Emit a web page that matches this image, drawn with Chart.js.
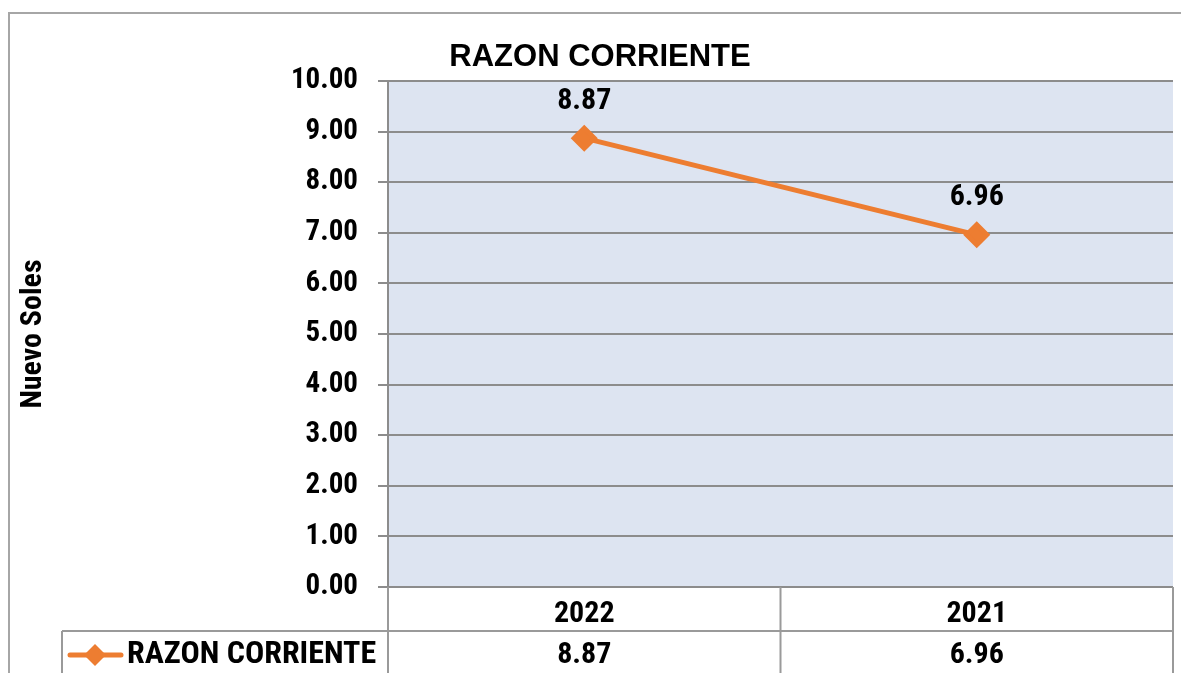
<!DOCTYPE html>
<html lang="es">
<head>
    <meta charset="UTF-8">
    <title>Razon Corriente</title>
    <script src="https://cdn.jsdelivr.net/npm/chart.js"></script>
    <style>
        html, body { margin: 0; padding: 0; background: #fff; overflow: hidden; }
        .chart-box { width: 1181px; height: 673px; position: relative; }
    </style>
</head>
<body>
    <div class="chart-box">
        <canvas id="ratioChart"></canvas>
    </div>

    <script>
        const categories = ['2022', '2021'];
        const ratioValues = [8.87, 6.96];
        const seriesName = 'RAZON CORRIENTE';
        const chartTitle = 'RAZON CORRIENTE';
        const yAxisTitle = 'Nuevo Soles';

        // narrow bold look, like Arial Narrow in the original sheet
        const NARROW = 'Roboto, "Liberation Sans", sans-serif';
        const NARROW_W = 'bold condensed';
        const TITLE_FONT = 'bold 31px "Liberation Sans", Arial, sans-serif';
        const ORANGE = '#ed7d31';
        const GRID = '#8c8c8c';
        const TABLE_LINE = '#9a9a9a';

        const excelLook = {
            id: 'excelLook',
            beforeDraw(chart) {
                const { ctx, chartArea: a } = chart;
                ctx.save();
                ctx.fillStyle = '#dde4f1';
                ctx.fillRect(a.left, a.top, a.right - a.left, a.bottom - a.top);
                // outer frame
                ctx.strokeStyle = '#a6a6a6';
                ctx.lineWidth = 2;
                ctx.beginPath();
                ctx.moveTo(chart.width + 5, 13);
                ctx.lineTo(9, 13);
                ctx.lineTo(9, chart.height + 5);
                ctx.stroke();
                ctx.restore();
            },
            afterDatasetsDraw(chart) {
                const { ctx } = chart;
                const meta = chart.getDatasetMeta(0);
                ctx.save();
                ctx.font = NARROW_W + ' 30px ' + NARROW;
                ctx.fillStyle = '#000';
                ctx.textAlign = 'center';
                ctx.textBaseline = 'middle';
                meta.data.forEach((pt, i) => {
                    ctx.fillText(ratioValues[i].toFixed(2), pt.x, pt.y - 37);
                });
                ctx.restore();
            },
            afterDraw(chart) {
                const { ctx, chartArea: a } = chart;
                const x = chart.scales.x;
                ctx.save();
                // title
                ctx.font = TITLE_FONT;
                ctx.fillStyle = '#000';
                ctx.textAlign = 'center';
                ctx.textBaseline = 'middle';
                ctx.fillText(chartTitle, 600, 57);

                // data table
                const rowTop = a.bottom + 44;
                const legendLeft = 62;
                const half = (x.getPixelForValue(1) - x.getPixelForValue(0)) / 2;
                ctx.strokeStyle = TABLE_LINE;
                ctx.lineWidth = 2;
                ctx.beginPath();
                const colEdges = [a.left];
                categories.forEach((c, i) => colEdges.push(x.getPixelForValue(i) + half));
                colEdges.forEach(px => {
                    ctx.moveTo(px, a.bottom);
                    ctx.lineTo(px, chart.height);
                });
                ctx.moveTo(legendLeft, rowTop);
                ctx.lineTo(a.right, rowTop);
                ctx.moveTo(legendLeft, rowTop);
                ctx.lineTo(legendLeft, chart.height);
                ctx.stroke();

                // values row
                ctx.font = NARROW_W + ' 30px ' + NARROW;
                ctx.textBaseline = 'middle';
                ctx.textAlign = 'center';
                const rowMid = rowTop + 24;
                ratioValues.forEach((v, i) => {
                    ctx.fillText(v.toFixed(2), x.getPixelForValue(i), rowMid);
                });

                // legend key
                ctx.strokeStyle = ORANGE;
                ctx.lineWidth = 5;
                ctx.lineCap = 'round';
                ctx.beginPath();
                ctx.moveTo(70, rowMid);
                ctx.lineTo(121, rowMid);
                ctx.stroke();
                ctx.fillStyle = ORANGE;
                ctx.beginPath();
                ctx.moveTo(95, rowMid - 11);
                ctx.lineTo(106, rowMid);
                ctx.lineTo(95, rowMid + 11);
                ctx.lineTo(84, rowMid);
                ctx.closePath();
                ctx.fill();
                ctx.fillStyle = '#000';
                ctx.textAlign = 'left';
                ctx.font = NARROW_W + ' 32px ' + NARROW;
                ctx.fillText(seriesName, 127, rowMid);
                ctx.restore();
            }
        };

        new Chart(document.getElementById('ratioChart'), {
            type: 'line',
            data: {
                labels: categories,
                datasets: [{
                    label: seriesName,
                    data: ratioValues,
                    borderColor: ORANGE,
                    backgroundColor: ORANGE,
                    borderWidth: 5,
                    pointStyle: 'rectRot',
                    pointRadius: 10,
                    pointHoverRadius: 10,
                    tension: 0
                }]
            },
            options: {
                responsive: true,
                maintainAspectRatio: false,
                animation: false,
                layout: {
                    autoPadding: false,
                    padding: { left: 4, top: 81, right: 8, bottom: 0 }
                },
                plugins: {
                    legend: { display: false },
                    tooltip: { enabled: false }
                },
                scales: {
                    x: {
                        offset: true,
                        grid: { display: false, drawTicks: false },
                        border: { display: false },
                        ticks: {
                            color: '#000',
                            padding: 9,
                            font: { family: NARROW, size: 30, weight: NARROW_W }
                        },
                        afterFit(scale) {
                            scale.height = 86;
                            scale.paddingLeft = 0;
                            scale.paddingRight = 0;
                        }
                    },
                    y: {
                        min: 0,
                        max: 10,
                        ticks: {
                            stepSize: 1,
                            color: '#000',
                            padding: 20,
                            font: { family: NARROW, size: 29, weight: NARROW_W },
                            callback: v => v.toFixed(2)
                        },
                        grid: { color: GRID, lineWidth: 2, tickLength: 10 },
                        border: { display: true, color: GRID, width: 2 },
                        title: {
                            display: true,
                            text: yAxisTitle,
                            color: '#000',
                            padding: { top: 11, bottom: 0 },
                            font: { family: NARROW, size: 30, weight: NARROW_W }
                        },
                        afterFit(scale) { scale.width = 384; }
                    }
                }
            },
            plugins: [excelLook]
        });
    </script>
</body>
</html>
